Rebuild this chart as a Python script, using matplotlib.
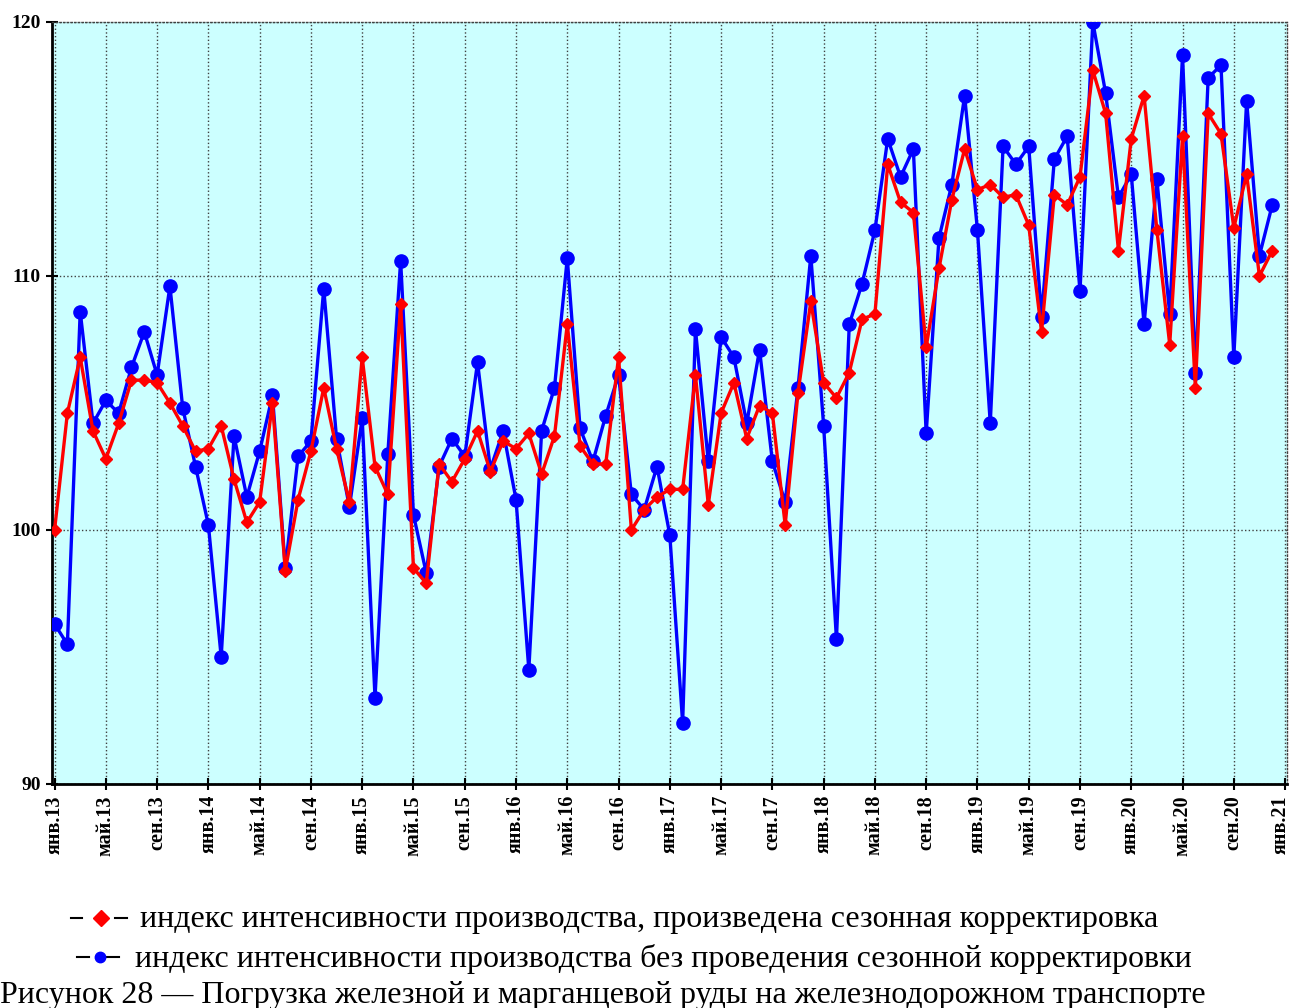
import matplotlib
matplotlib.use('Agg')
import matplotlib.pyplot as plt
from matplotlib.lines import Line2D
from matplotlib.transforms import ScaledTranslation

plt.rcParams['font.family'] = ['Liberation Serif', 'DejaVu Serif']

# monthly index values, jan 2013 .. dec 2020
seasonal_adj = [100.0, 104.6, 106.8, 103.9, 102.8, 104.2, 105.9, 105.9, 105.8, 105.0, 104.1, 103.1,
                103.2, 104.1, 102.0, 100.3, 101.1, 105.0, 98.4, 101.2, 103.1, 105.6, 103.2, 101.1,
                106.8, 102.5, 101.4, 108.9, 98.5, 97.9, 102.6, 101.9, 102.8, 103.9, 102.3, 103.5,
                103.2, 103.8, 102.2, 103.7, 108.1, 103.3, 102.6, 102.6, 106.8, 100.0, 100.8, 101.3,
                101.6, 101.6, 106.1, 101.0, 104.6, 105.8, 103.6, 104.9, 104.6, 100.2, 105.4, 109.0,
                105.8, 105.2, 106.2, 108.3, 108.5, 114.4, 112.9, 112.5, 107.2, 110.3, 113.0, 115.0,
                113.4, 113.6, 113.1, 113.2, 112.0, 107.8, 113.2, 112.8, 113.9, 118.1, 116.4, 111.0,
                115.4, 117.1, 111.8, 107.3, 115.5, 105.6, 116.4, 115.6, 111.9, 114.0, 110.0, 111.0]
not_adjusted = [96.3, 95.5, 108.6, 104.2, 105.1, 104.6, 106.4, 107.8, 106.1, 109.6, 104.8, 102.5,
                100.2, 95.0, 103.7, 101.3, 103.1, 105.3, 98.5, 102.9, 103.5, 109.5, 103.6, 100.9,
                104.4, 93.4, 103.0, 110.6, 100.6, 98.3, 102.5, 103.6, 102.9, 106.6, 102.4, 103.9,
                101.2, 94.5, 103.9, 105.6, 110.7, 104.0, 102.7, 104.5, 106.1, 101.4, 100.8, 102.5,
                99.8, 92.4, 107.9, 102.7, 107.6, 106.8, 104.2, 107.1, 102.7, 101.1, 105.6, 110.8,
                104.1, 95.7, 108.1, 109.7, 111.8, 115.4, 113.9, 115.0, 103.8, 111.5, 113.6, 117.1,
                111.8, 104.2, 115.1, 114.4, 115.1, 108.4, 114.6, 115.5, 109.4, 120.0, 117.2, 113.1,
                114.0, 108.1, 113.8, 108.5, 118.7, 106.2, 117.8, 118.3, 106.8, 116.9, 110.8, 112.8]
tick_labels = ['янв.13', 'май.13', 'сен.13', 'янв.14', 'май.14', 'сен.14', 'янв.15', 'май.15', 'сен.15',
               'янв.16', 'май.16', 'сен.16', 'янв.17', 'май.17', 'сен.17', 'янв.18', 'май.18', 'сен.18',
               'янв.19', 'май.19', 'сен.19', 'янв.20', 'май.20', 'сен.20', 'янв.21']
legend_labels = ['индекс интенсивности производства, произведена сезонная корректировка',
                 'индекс интенсивности производства без проведения сезонной корректировки']
caption = 'Рисунок 28 — Погрузка железной и марганцевой руды на железнодорожном транспорте'

W, H = 1292, 1008
fig = plt.figure(figsize=(W/100, H/100), dpi=100)
ax = fig.add_axes([52/W, 1-784/H, (1287-52)/W, (784-22)/H])
ax.set_facecolor('#CCFFFF')

months = list(range(len(seasonal_adj)))
ax.plot(months, not_adjusted, color='#0000FF', lw=2.4, marker='o', ms=9.5, zorder=3)
ax.plot(months, seasonal_adj, color='#FF0000', lw=2.4, marker='D', ms=6.5, zorder=4)

ax.set_xlim(-0.2, 96.15)
ax.set_ylim(90, 120)
ax.set_yticks([90, 100, 110, 120])
ax.set_xticks(range(0, 97, 4))
ax.set_xticklabels(tick_labels, rotation=90, fontsize=14.5, fontweight='bold')
for t in ax.get_yticklabels():
    t.set_fontsize(14)
    t.set_fontweight('bold')
ax.tick_params(direction='inout', length=8, width=1.5, pad=4)
ax.grid(True, color='#404040', linestyle=':', linewidth=1)
for s in ['left', 'bottom']:
    ax.spines[s].set_linewidth(2)
for s in ['top', 'right']:
    ax.spines[s].set_color('#404040')
    ax.spines[s].set_linestyle(':')
    ax.spines[s].set_linewidth(1)

# last label sits on the figure edge, nudge it left a little
last = ax.get_xticklabels()[-1]
last.set_transform(last.get_transform() + ScaledTranslation(-4/100, 0, fig.dpi_scale_trans))

# legend drawn by hand: "–♦– text"
def fx(px):
    return px / W

def fy(py):
    return 1 - py / H

legend_rows = [('#FF0000', 'D', 8.5, 918, 71, 82, 101, 115, 127, 140, 927),
               ('#0000FF', 'o', 7.5, 957, 77, 89, 100, 107, 119, 135, 967)]
for (c, m, ms, yc, d1a, d1b, mx, d2a, d2b, tx, base), lab in zip(legend_rows, legend_labels):
    fig.add_artist(Line2D([fx(d1a), fx(d1b)], [fy(yc), fy(yc)], color='black', lw=1.5))
    fig.add_artist(Line2D([fx(d2a), fx(d2b)], [fy(yc), fy(yc)], color='black', lw=1.5))
    fig.add_artist(Line2D([fx(mx)], [fy(yc)], color=c, marker=m, ms=ms, lw=0))
    fig.text(fx(tx), fy(base), lab, fontsize=23, ha='left', va='baseline')

fig.text(0.0, fy(1003), caption, fontsize=23, ha='left', va='baseline')

plt.savefig('out.png')
